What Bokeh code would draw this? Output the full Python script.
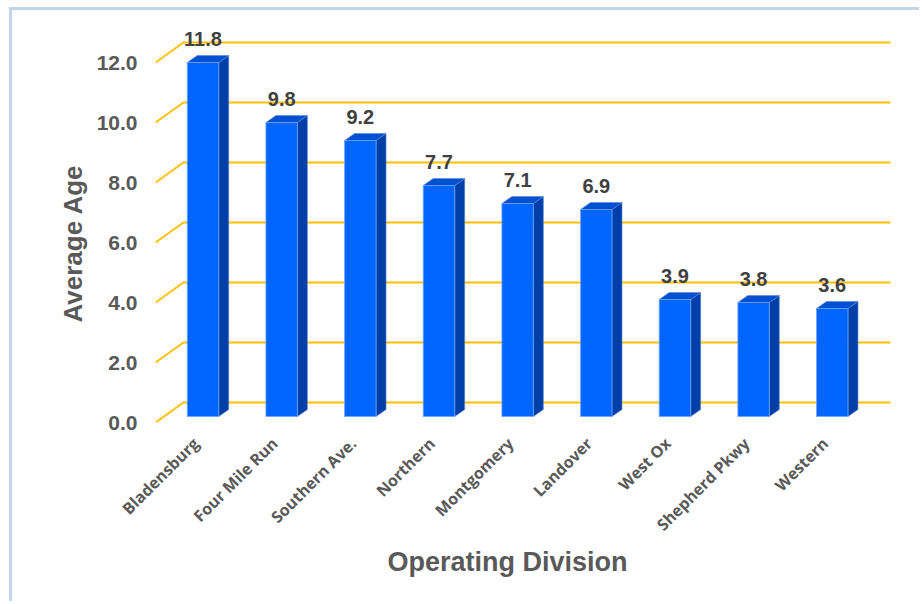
import math
from bokeh.plotting import figure
from bokeh.models import Range1d, FixedTicker, PrintfTickFormatter, Title
from bokeh.core.properties import value
from bokeh.embed import file_html
from bokeh.resources import INLINE

# ---- data ----
divisions = ["Bladensburg", "Four Mile Run", "Southern Ave.", "Northern", "Montgomery",
             "Landover", "West Ox", "Shepherd Pkwy", "Western"]
avg_age = [11.8, 9.8, 9.2, 7.7, 7.1, 6.9, 3.9, 3.8, 3.6]
value_labels = ["11.8", "9.8", "9.2", "7.7", "7.1", "6.9", "3.9", "3.8", "3.6"]
y_ticks = [0, 2, 4, 6, 8, 10, 12]
x_title = "Operating Division"
y_title = "Average Age"

# ---- 3D geometry (data units) ----
X_START, X_END = -0.604, 8.766
Y_START, Y_END = 0.0, 13.4
WALL_DX, WALL_DY = 0.356, 0.667     # depth of the back wall
WALL_RIGHT = 8.74
BAR_W = 0.40
BAR_LIFT = 0.2                      # bar front plane offset
SIDE_DX, SIDE_DY = 0.127, 0.233     # bar depth
LABEL_GAP = 0.77
TICK_SHIFT = -0.09                  # category label anchor shift

FRONT = "#0066FF"
TOP = "#0050D2"
SIDE = "#003FA8"
GRID = "#FFC000"
TXT = "#595959"

p = figure(width=910, height=594, output_backend="svg", toolbar_location=None,
           x_range=Range1d(X_START, X_END), y_range=Range1d(Y_START, Y_END),
           min_border_left=143, min_border_right=30, min_border_top=10, min_border_bottom=182)
p.outline_line_color = None
p.grid.visible = False
p.background_fill_color = "white"
p.border_fill_color = "white"
p.styles = {"margin-left": "9px", "margin-top": "7px",
            "border-left": "3px solid #C3D5EA", "border-top": "3px solid #C3D5EA"}

# gridlines on back wall with diagonal floor-return
gxs, gys = [], []
for t in y_ticks:
    gxs.append([X_START, X_START + WALL_DX, WALL_RIGHT])
    gys.append([t, t + WALL_DY, t + WALL_DY])
p.multi_line(gxs, gys, line_color=GRID, line_width=2)

idx = list(range(len(divisions)))
left = [i - BAR_W / 2 for i in idx]
right = [i + BAR_W / 2 for i in idx]
bottom = [BAR_LIFT for _ in idx]
top = [v + BAR_LIFT for v in avg_age]

# side faces
side_xs = [[r, r + SIDE_DX, r + SIDE_DX, r] for r in right]
side_ys = [[BAR_LIFT, BAR_LIFT + SIDE_DY, tp + SIDE_DY, tp] for tp in top]
p.patches(side_xs, side_ys, fill_color=SIDE, line_color="#5A86D6", line_width=0.6)
# top faces
top_xs = [[l, l + SIDE_DX, r + SIDE_DX, r] for l, r in zip(left, right)]
top_ys = [[tp, tp + SIDE_DY, tp + SIDE_DY, tp] for tp in top]
p.patches(top_xs, top_ys, fill_color=TOP, line_color="#5A86D6", line_width=0.6)
# front faces
p.quad(left=left, right=right, bottom=bottom, top=top, fill_color=FRONT,
       line_color="#6EA2FF", line_width=0.8)

# value labels
p.text(x=idx, y=[tp + LABEL_GAP for tp in top], text=value_labels,
       text_align="center", text_baseline="alphabetic",
       text_font=value("Liberation Sans"), text_font_style="bold",
       text_font_size="20px", text_color="#404040")

# y axis
ya = p.yaxis[0]
ya.ticker = FixedTicker(ticks=y_ticks)
ya.formatter = PrintfTickFormatter(format="%.1f")
ya.axis_line_color = None
ya.major_tick_line_color = None
ya.minor_tick_line_color = None
ya.major_tick_out = 0
ya.major_tick_in = 0
ya.major_label_standoff = 18
ya.major_label_text_font = "Liberation Sans"
ya.major_label_text_font_style = "bold"
ya.major_label_text_font_size = "21px"
ya.major_label_text_color = TXT

# x axis
tick_pos = [i + TICK_SHIFT for i in idx]
xa = p.xaxis[0]
xa.ticker = FixedTicker(ticks=tick_pos)
xa.major_label_overrides = {t: d for t, d in zip(tick_pos, divisions)}
xa.major_label_orientation = math.pi / 4
xa.axis_line_color = None
xa.major_tick_line_color = None
xa.minor_tick_line_color = None
xa.major_tick_out = 0
xa.major_tick_in = 0
xa.major_label_standoff = 18
xa.major_label_text_font = "Open Sans"
xa.major_label_text_font_style = "bold"
xa.major_label_text_font_size = "16px"
xa.major_label_text_color = TXT

# axis titles as side titles (allow an offset along the axis)
p.add_layout(Title(text=y_title, align="left", offset=100,
                   text_font="Liberation Sans", text_font_style="bold",
                   text_font_size="26px", text_color=TXT, standoff=11), "left")
p.add_layout(Title(text=x_title, align="left", offset=232,
                   text_font="Liberation Sans", text_font_style="bold",
                   text_font_size="27px", text_color=TXT, standoff=-3), "below")

open("out.html", "w").write(file_html(p, INLINE))
